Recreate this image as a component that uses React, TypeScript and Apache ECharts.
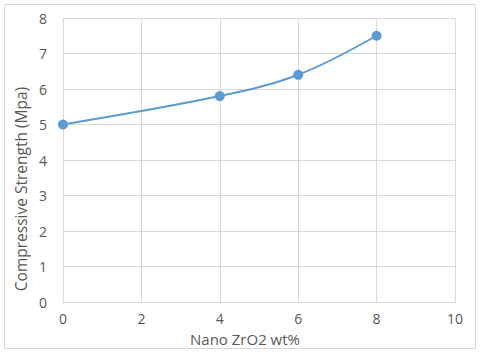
import React, { useEffect, useRef } from "react";
import * as echarts from "echarts";

const xValues = [0, 4, 6, 8];
const strength = [5, 5.8, 6.4, 7.5];
const xTitle = "Nano ZrO2 wt%";
const yTitle = "Compressive Strength (Mpa)";

export default function App() {
  const ref = useRef<HTMLDivElement>(null);
  useEffect(() => {
    const chart = echarts.init(ref.current!, null, { renderer: "svg" });
    const font = "'Open Sans', 'Liberation Sans', sans-serif";
    chart.setOption({
      animation: false,
      backgroundColor: "#ffffff",
      graphic: [
        {
          type: "rect",
          shape: { x: 4.5, y: 4.5, width: 471, height: 344 },
          style: { fill: "none", stroke: "#d9d9d9", lineWidth: 1 },
          z: -1,
        },
        {
          type: "text",
          x: 245,
          y: 339,
          style: {
            text: xTitle,
            fill: "#595959",
            fontSize: 15,
            fontFamily: font,
            textAlign: "center",
            textVerticalAlign: "middle",
          },
        },
        {
          type: "text",
          x: 21,
          y: 189,
          rotation: Math.PI / 2,
          style: {
            text: yTitle,
            fill: "#595959",
            fontSize: 15.5,
            fontFamily: font,
            textAlign: "center",
            textVerticalAlign: "middle",
          },
        },
      ],
      grid: { left: 63, top: 18, width: 392, height: 284, containLabel: false },
      xAxis: {
        type: "value",
        min: 0,
        max: 10,
        interval: 2,
        axisLine: { show: true, lineStyle: { color: "#d9d9d9", width: 1 } },
        axisTick: { show: false },
        axisLabel: { color: "#595959", fontSize: 14, fontFamily: font, margin: 9 },
        splitLine: { show: true, lineStyle: { color: "#d9d9d9", width: 1 } },
      },
      yAxis: {
        type: "value",
        min: 0,
        max: 8,
        interval: 1,
        axisLine: { show: true, lineStyle: { color: "#d9d9d9", width: 1 } },
        axisTick: { show: false },
        axisLabel: { color: "#595959", fontSize: 14, fontFamily: font, margin: 16 },
        splitLine: { show: true, lineStyle: { color: "#d9d9d9", width: 1 } },
      },
      series: [
        {
          type: "line",
          data: xValues.map((x, i) => [x, strength[i]]),
          smooth: 0.35,
          symbol: "circle",
          symbolSize: 10,
          lineStyle: { color: "#5b9bd5", width: 2 },
          itemStyle: { color: "#5b9bd5" },
        },
      ],
    });
    return () => chart.dispose();
  }, []);
  return (
    <div
      ref={ref}
      style={{ position: "fixed", left: 0, top: 0, width: 480, height: 355 }}
    />
  );
}
